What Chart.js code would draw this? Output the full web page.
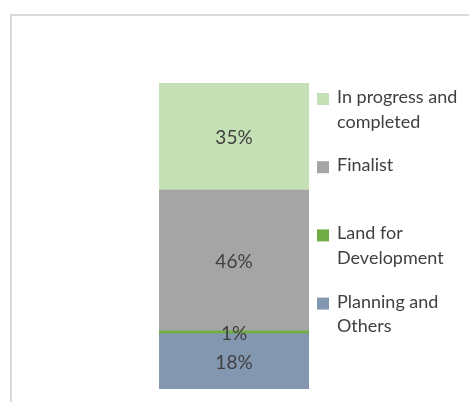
<!DOCTYPE html>
<html>
<head>
<meta charset="utf-8">
<script src="https://cdn.jsdelivr.net/npm/chart.js@4/dist/chart.umd.min.js"></script>
<style>
  html, body { margin: 0; padding: 0; background: #ffffff; }
  #wrap { width: 469px; height: 402px; position: relative; }
</style>
</head>
<body>
<div id="wrap"><canvas id="c" width="469" height="402"></canvas></div>
<script>
// ---- data ----
const categories = ['Projects'];
const seriesNames = [
  ['Planning and', 'Others'],
  ['Land for', 'Development'],
  ['Finalist'],
  ['In progress and', 'completed']
];
const planningValues = [18];
const landValues = [1];
const finalistValues = [46];
const inProgressValues = [35];
const seriesColors = ['#8497b0', '#70ad47', '#a5a5a5', '#c5e0b4'];

const seriesValues = [planningValues, landValues, finalistValues, inProgressValues];

const FONT_FAMILY = 'Lato, "Open Sans", sans-serif';
const TEXT_COLOR = '#404040';

const framePlugin = {
  id: 'frame',
  beforeDraw(chart) {
    const ctx = chart.ctx;
    ctx.save();
    ctx.strokeStyle = '#d9d9d9';
    ctx.lineWidth = 2;
    ctx.beginPath();
    ctx.moveTo(11, 403);
    ctx.lineTo(11, 15);
    ctx.lineTo(470, 15);
    ctx.stroke();
    ctx.restore();
  }
};

const valueLabelPlugin = {
  id: 'valueLabels',
  afterDatasetsDraw(chart) {
    const ctx = chart.ctx;
    ctx.save();
    ctx.font = '19px ' + FONT_FAMILY;
    ctx.fillStyle = TEXT_COLOR;
    ctx.textAlign = 'center';
    ctx.textBaseline = 'alphabetic';
    chart.data.datasets.forEach((ds, i) => {
      const meta = chart.getDatasetMeta(i);
      meta.data.forEach((el, j) => {
        const txt = ds.data[j] + '%';
        const cy = (el.y + el.base) / 2;
        const m = ctx.measureText('0');
        const asc = m.actualBoundingBoxAscent;
        ctx.fillText(txt, el.x, cy + asc / 2 + 0.5);
      });
    });
    ctx.restore();
  }
};

const legendPlugin = {
  id: 'sideLegend',
  afterDraw(chart) {
    const ctx = chart.ctx;
    const area = chart.chartArea;
    ctx.save();
    ctx.font = '18px ' + FONT_FAMILY;
    ctx.textAlign = 'left';
    ctx.textBaseline = 'alphabetic';
    const n = chart.data.datasets.length;
    const boxX = area.right + 8;
    const textX = area.right + 28;
    const firstBase = area.top + 20;
    const step = 68.2;
    const lineH = 24.5;
    for (let k = 0; k < n; k++) {
      const ds = chart.data.datasets[n - 1 - k];
      const base = firstBase + step * k;
      ctx.fillStyle = ds.backgroundColor;
      ctx.fillRect(boxX, base - 10, 12, 12);
      ctx.fillStyle = TEXT_COLOR;
      ds.label.forEach((line, li) => {
        ctx.fillText(line, textX, base + li * lineH);
      });
    }
    ctx.restore();
  }
};

new Chart(document.getElementById('c'), {
  type: 'bar',
  data: {
    labels: categories,
    datasets: seriesNames.map((name, i) => ({
      label: name,
      data: seriesValues[i],
      backgroundColor: seriesColors[i],
      borderWidth: 0,
      barPercentage: 1,
      categoryPercentage: 1
    }))
  },
  options: {
    responsive: false,
    animation: false,
    layout: { padding: { left: 159, right: 160, top: 83, bottom: 13 } },
    plugins: { legend: { display: false }, tooltip: { enabled: false } },
    scales: {
      x: { stacked: true, display: false },
      y: { stacked: true, display: false, min: 0, max: 100 }
    }
  },
  plugins: [framePlugin, valueLabelPlugin, legendPlugin]
});
</script>
</body>
</html>
